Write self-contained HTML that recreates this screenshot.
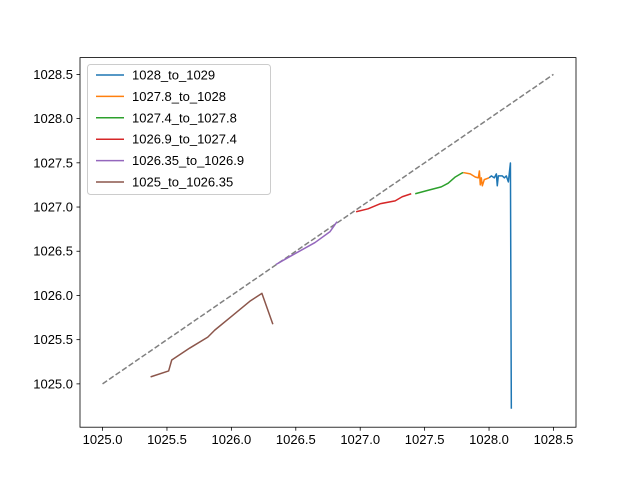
<!DOCTYPE html>
<html><head><meta charset="utf-8"><style>body{margin:0;background:#fff}svg{display:block}text{font-family:"Liberation Sans","DejaVu Sans",sans-serif;font-size:13px;fill:#000}</style></head>
<body>
<svg id="chart" width="640" height="480"></svg>
<script>
const seriesNames=["1028_to_1029","1027.8_to_1028","1027.4_to_1027.8","1026.9_to_1027.4","1026.35_to_1026.9","1025_to_1026.35"];
const colors=["#1f77b4","#ff7f0e","#2ca02c","#d62728","#9467bd","#8c564b"];
const xTicks=[1025.0,1025.5,1026.0,1026.5,1027.0,1027.5,1028.0,1028.5];
const yTicks=[1025.0,1025.5,1026.0,1026.5,1027.0,1027.5,1028.0,1028.5];
const diagX=[1025,1028.5];
const diagY=[1025,1028.5];
const blueX=[1028.0,1028.018,1028.041,1028.057,1028.064,1028.072,1028.103,1028.119,1028.134,1028.15,1028.166,1028.173];
const blueY=[1027.33,1027.352,1027.33,1027.375,1027.24,1027.352,1027.352,1027.33,1027.352,1027.284,1027.498,1024.719];
const orangeX=[1027.8,1027.854,1027.893,1027.917,1027.925,1027.932,1027.94,1027.948,1027.963,1028.0];
const orangeY=[1027.39,1027.375,1027.34,1027.33,1027.408,1027.251,1027.33,1027.24,1027.31,1027.33];
const greenX=[1027.427,1027.528,1027.629,1027.683,1027.738,1027.792,1027.8];
const greenY=[1027.15,1027.19,1027.228,1027.27,1027.34,1027.386,1027.39];
const redX=[1026.968,1027.061,1027.154,1027.271,1027.326,1027.396];
const redY=[1026.947,1026.98,1027.037,1027.07,1027.116,1027.15];
const purpleX=[1026.346,1026.454,1026.649,1026.766,1026.82];
const purpleY=[1026.35,1026.44,1026.598,1026.722,1026.834];
const brownX=[1025.373,1025.513,1025.537,1025.677,1025.817,1025.871,1026.003,1026.143,1026.237,1026.322];
const brownY=[1025.079,1025.146,1025.27,1025.405,1025.529,1025.608,1025.765,1025.934,1026.024,1025.675];
const allX=[blueX,orangeX,greenX,redX,purpleX,brownX];
const allY=[blueY,orangeY,greenY,redY,purpleY,brownY];

const L=80,R=576,T=57.6,B=427.2;
const xmin=1024.825,xmax=1028.675,ymin=1024.51,ymax=1028.69;
const sx=v=>L+(v-xmin)/(xmax-xmin)*(R-L);
const sy=v=>B-(v-ymin)/(ymax-ymin)*(B-T);
const svg=document.getElementById('chart');
const NS='http://www.w3.org/2000/svg';
function mk(tag,attrs,parent){const e=document.createElementNS(NS,tag);for(const k in attrs)e.setAttribute(k,attrs[k]);(parent||svg).appendChild(e);return e;}
function pts(xs,ys){return xs.map((x,i)=>sx(x).toFixed(2)+','+sy(ys[i]).toFixed(2)).join(' ');}

const diag=mk('polyline',{points:pts(diagX,diagY),fill:'none',stroke:'#808080','stroke-width':1.5,'stroke-dasharray':'5.5,2.4'});


allX.forEach((xs,i)=>{
  const p=mk('polyline',{points:pts(xs,allY[i]),fill:'none',stroke:colors[i],'stroke-width':1.5,'stroke-linejoin':'round'});
  
  
});
const frame=mk('rect',{x:L,y:T,width:R-L,height:B-T,fill:'none',stroke:'#000','stroke-width':0.8});


xTicks.forEach(v=>{
  const x=sx(v);
  mk('line',{x1:x,x2:x,y1:B,y2:B+3.5,stroke:'#000','stroke-width':0.8});
  const t=mk('text',{x:x,y:B+17,'text-anchor':'middle'});t.textContent=v.toFixed(1);
  
  
});
yTicks.forEach(v=>{
  const y=sy(v);
  mk('line',{x1:L-3.5,x2:L,y1:y,y2:y,stroke:'#000','stroke-width':0.8});
  const t=mk('text',{x:L-7,y:y+4.5,'text-anchor':'end'});t.textContent=v.toFixed(1);
  
  
});
const lg=mk('g',{});


mk('rect',{x:87.5,y:64.5,width:183,height:130,rx:3,fill:'#fff','fill-opacity':0.8,stroke:'#ccc','stroke-width':1},lg);
seriesNames.forEach((n,i)=>{
  const y=75+i*21.4;
  mk('line',{x1:96,x2:124,y1:y,y2:y,stroke:colors[i],'stroke-width':1.5},lg);
  const t=mk('text',{x:132,y:y+4.5},lg);t.textContent=n;
  
  
});
</script>
</body></html>
